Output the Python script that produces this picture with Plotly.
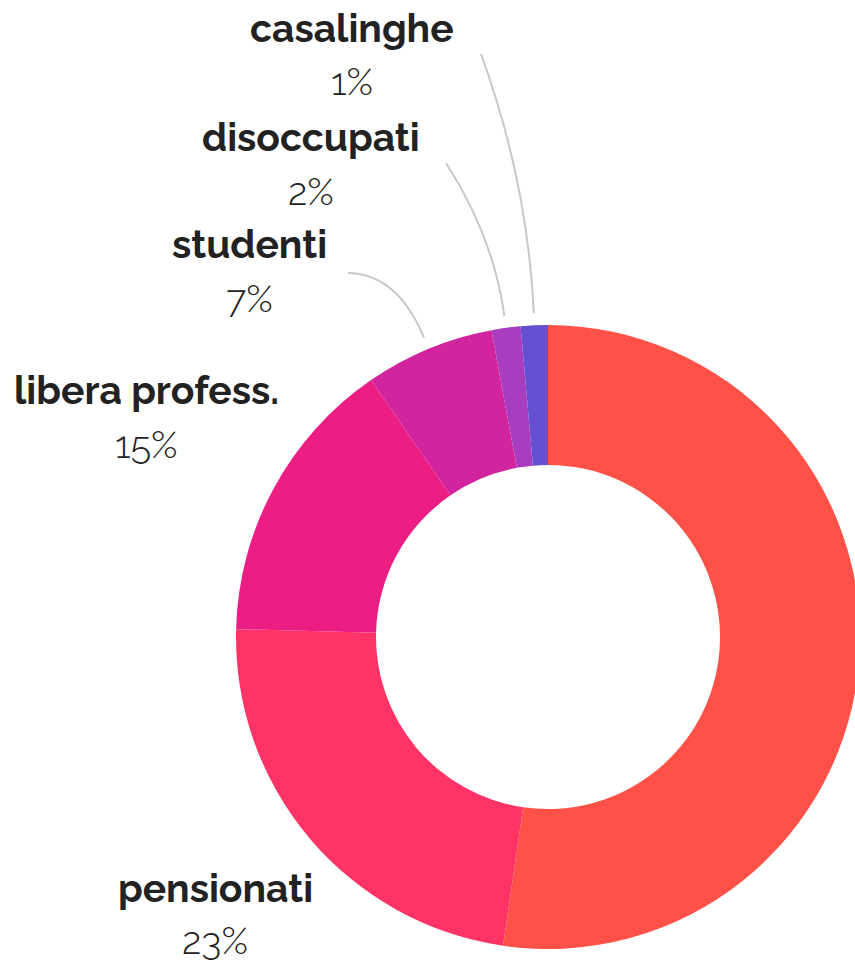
import math
import plotly.graph_objects as go

# ---- data ----
categories = ["dipendenti", "pensionati", "libera profess.", "studenti", "disoccupati", "casalinghe"]
values = [52.3, 23.1, 15.0, 6.7, 1.5, 1.4]
pct_labels = ["52%", "23%", "15%", "7%", "2%", "1%"]
colors = ["#FF5147", "#FF3366", "#EC1E84", "#D324A0", "#A93DC0", "#6450D0"]
shown = [False, True, True, True, True, True]
with_leader = [False, False, False, True, True, True]

# ---- layout (pixels) ----
W, H = 870, 963
CX, CY, R = 548, 637, 312
HOLE = 172 / 312

# label centre positions (px) per category: name x, name y, pct y
label_pos = {
    "pensionati": (215, 888, 940),
    "libera profess.": (146, 390, 444),
    "studenti": (250, 244, 298),
    "disoccupati": (311, 137, 191),
    "casalinghe": (352, 28, 82),
}
# leader line start (px) and control distance along radial direction
leader_start = {
    "studenti": ((348, 273), 69),
    "disoccupati": ((446, 163), 80),
    "casalinghe": ((481, 54), 130),
}


def px(x):
    return x / W


def py(y):
    return 1 - y / H


x0d = (CX - R) / W
x1d = min(1.0, (CX + R) / W)
y0d = 1 - (CY + R) / H
y1d = 1 - (CY - R) / H

fig = go.Figure(
    go.Pie(
        labels=categories,
        values=values,
        sort=False,
        direction="clockwise",
        rotation=0,
        hole=HOLE,
        marker=dict(colors=colors, line=dict(width=0)),
        textinfo="none",
        hoverinfo="label+percent",
        showlegend=False,
        domain=dict(x=[x0d, x1d], y=[y0d, y1d]),
    )
)

total = sum(values)
cum = 0.0
annotations = []
shapes = []
for cat, v, pl, s, lead in zip(categories, values, pct_labels, shown, with_leader):
    mid = (cum + v / 2) / total * 2 * math.pi
    cum += v
    if not s:
        continue
    lx, ny, pyy = label_pos[cat]
    annotations.append(dict(
        x=px(lx), y=py(ny), xref="paper", yref="paper", text=cat, showarrow=False,
        xanchor="center", yanchor="middle",
        font=dict(family="Raleway, Lato, sans-serif", size=39, color="#222222", weight=700),
    ))
    annotations.append(dict(
        x=px(lx), y=py(pyy), xref="paper", yref="paper", text=pl, showarrow=False,
        xanchor="center", yanchor="middle",
        font=dict(family="Raleway, Lato, sans-serif", size=38, color="#222222", weight=300),
    ))
    if lead:
        (sx, sy), t = leader_start[cat]
        rr = R + 12
        dx, dy = math.sin(mid), -math.cos(mid)
        ex, ey = CX + rr * dx, CY + rr * dy
        cx_, cy_ = ex + t * dx, ey + t * dy
        path = f"M {px(sx)},{py(sy)} Q {px(cx_)},{py(cy_)} {px(ex)},{py(ey)}"
        shapes.append(dict(type="path", xref="paper", yref="paper", path=path,
                           line=dict(color="#C8C8C8", width=2)))

fig.update_layout(
    width=W, height=H,
    margin=dict(l=0, r=0, t=0, b=0),
    paper_bgcolor="white", plot_bgcolor="white",
    annotations=annotations,
    shapes=shapes,
)

fig.write_html(
    "out.html",
    config={"displayModeBar": False},
    post_script="document.body.style.margin='0px';document.body.style.overflow='hidden';",
)
